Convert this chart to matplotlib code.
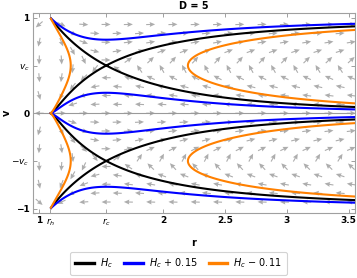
import numpy as np
import matplotlib
matplotlib.use("Agg")
import matplotlib.pyplot as plt
from matplotlib.lines import Line2D

# model parameters
D = 5
k = 0.25            # p = k e, so v_c = sqrt(k)
r_h = 1.09
level_offsets = [0.0, 0.15, -0.11]
level_colors = ["black", "#0000ff", "#ff8000"]
level_labels = [r"$H_c$", r"$H_c$ + 0.15", r"$H_c$ $-$ 0.11"]

num_ticks = [1, 2, 2.5, 3, 3.5]
num_tick_labels = ["1", "2", "2.5", "3", "3.5"]

a = 1 - k
b = 2 * k * (D - 2)


def f(r):
    return 1 - (r_h / r) ** (D - 3)


def fprime(r):
    return (D - 3) * r_h ** (D - 3) / r ** (D - 2)


def hamiltonian(r, v):
    return f(r) ** a / ((1 - v ** 2) ** a * np.abs(v) ** (2 * k) * r ** b)


xc = 2 * k * (D - 2) / ((1 - k) * (D - 3) + 2 * k * (D - 2))
r_c = r_h * xc ** (-1.0 / (D - 3))
v_c = np.sqrt(k)
H_c = hamiltonian(r_c, v_c)

fig = plt.figure(figsize=(3.57, 2.78), dpi=100)
ax = fig.add_axes([33 / 357, 1 - 213 / 278, 322 / 357, 200 / 278])
ax.set_xlim(0.95, 3.55)
ax.set_ylim(-1.045, 1.05)

# vector field (staggered grid, unit arrows)
px_r = 322 / 2.6
px_v = 200 / 2.095
pts_r, pts_v = [], []
for j in range(-10, 11):
    vv = j * 0.093
    off = 0.09 if j % 2 else 0.0
    rr = 1.0 + off
    while rr < 3.53:
        pts_r.append(rr)
        pts_v.append(vv)
        rr += 0.18
pts_r = np.array(pts_r)
pts_v = np.array(pts_v)
ve = np.where(pts_v == 0, -1e-6, pts_v)
sgn = np.where(f(pts_r) > 0, 1.0, -1.0)
dr = sgn * (2 * a * ve / (1 - ve ** 2) - 2 * k / ve)
dv = -sgn * (a * fprime(pts_r) / f(pts_r) - b / pts_r)
U = dr * px_r
W = dv * px_v
n = np.hypot(U, W)
L = 9.0
U = U / n * L
W = W / n * L
ax.quiver(pts_r, pts_v, U, W, angles="uv", scale_units="dots", scale=1,
          units="dots", width=1.1, headwidth=4.5, headlength=5,
          headaxislength=4.5, pivot="middle", color="#adadad", zorder=1)

ax.axhline(0, color="#9a9a9a", lw=0.8, zorder=1.5)

# level curves of H
t = np.linspace(0, 1, 1500)[1:]
rg = r_h + (3.6 - r_h) * t ** 2
s = np.linspace(0, 1, 1400)[1:-1]
vp = (1 - np.cos(np.pi * s)) / 2
vg = np.concatenate([-vp[::-1], vp])
RR, VV = np.meshgrid(rg, vg)
Z = hamiltonian(RR, VV)
for off, col in zip(level_offsets, level_colors):
    ax.contour(rg, vg, Z, levels=[H_c + off], colors=[col], linewidths=1.5,
               zorder=3)

ax.set_xticks([1, r_h, r_c] + num_ticks[1:])
ax.set_xticklabels(["1", r"$r_h$", r"$r_c$"] + num_tick_labels[1:])
ax.set_yticks([-1, -v_c, 0, v_c, 1])
ax.set_yticklabels(["\u22121", r"$-v_c$", "0", r"$v_c$", "1"])
ax.tick_params(direction="in", length=3, width=0.7, color="#a0a0a0",
               labelsize=6.5, pad=2.5, top=True, right=True)
for lab in ax.get_xticklabels() + ax.get_yticklabels():
    lab.set_fontweight("bold")
for sp in ax.spines.values():
    sp.set_color("#a0a0a0")
    sp.set_linewidth(0.8)

ax.set_xlabel("r", fontsize=7, fontweight="bold")
ax.set_ylabel("v", fontsize=7, fontweight="bold", rotation=90)
ax.xaxis.set_label_coords((194 - 33) / 322, -(238 - 213) / 200)
ax.yaxis.set_label_coords(-(33 - 12) / 322, (213 - 113) / 200)
ax.set_title("D = 5", fontsize=7, fontweight="bold", pad=3)

handles = [Line2D([], [], color=c, lw=2.4) for c in level_colors]
leg = fig.legend(handles, level_labels, loc="center", ncol=3,
                 bbox_to_anchor=(0.5, 0.052), fontsize=7, frameon=True,
                 fancybox=True, handlelength=1.9, handletextpad=0.6,
                 columnspacing=1.2, borderpad=0.5)
leg.get_frame().set_edgecolor("#c8c8c8")
leg.get_frame().set_linewidth(0.8)

fig.savefig("out.png", dpi=100)
